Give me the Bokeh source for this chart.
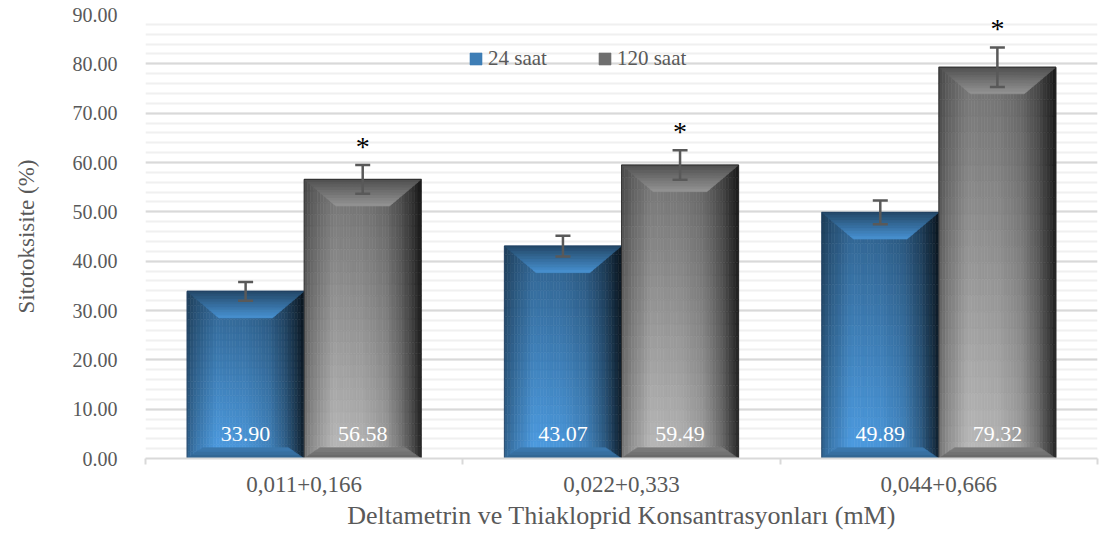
import numpy as np
from bokeh.plotting import figure
from bokeh.models import (Range1d, FixedTicker, NumeralTickFormatter, Whisker, TeeHead,
                          ColumnDataSource, Legend, LegendItem)
from bokeh.core.properties import value
from bokeh.embed import file_html
from bokeh.resources import INLINE

# ---------------- data ----------------
categories = ["0,011+0,166", "0,022+0,333", "0,044+0,666"]
series = ["24 saat", "120 saat"]
values_24 = [33.90, 43.07, 49.89]
values_120 = [56.58, 59.49, 79.32]
error_24 = [1.9, 2.1, 2.4]
error_120 = [2.9, 3.0, 4.0]
marks_120 = ["*", "*", "*"]
y_ticks = [0, 10, 20, 30, 40, 50, 60, 70, 80, 90]
x_title = "Deltametrin ve Thiakloprid Konsantrasyonları (mM)"
y_title = "Sitotoksisite (%)"

# ---------------- style ----------------
FONT = "Liberation Serif"
TXT = "#595959"
BAR_W = 0.369
BEVEL_X = 0.10
BEVEL_Y = 5.4
BOT_X = 0.05
BOT_Y = 2.2
LABEL_Y = 5.0
STAR_GAP = 3.8
light_rgb = {"24 saat": (78, 158, 228), "120 saat": (186, 186, 186)}
edge_col = {"24 saat": "#1c3a5c", "120 saat": "#1e1e1e"}
top_bevel_f = {"24 saat": (0.45, 0.92), "120 saat": (0.42, 0.80)}
bot_bevel_f = {"24 saat": (0.62, 0.78), "120 saat": (0.55, 0.68)}
legend_cell = {"24 saat": (10, 12), "120 saat": (20, 22)}
h_u = [0, 0.08, 0.25, 0.5, 0.7, 0.85, 0.95, 1.0]
h_f = [0.62, 0.78, 1.0, 0.97, 0.85, 0.6, 0.35, 0.2]
NU, NV, NB = 36, 24, 10


def shade(rgb, f):
    return "#%02x%02x%02x" % tuple(int(max(0, min(255, round(c * f)))) for c in rgb)


p = figure(width=1103, height=534, x_range=Range1d(0, 3), y_range=Range1d(0, 90),
           output_backend="svg", toolbar_location=None,
           min_border_left=145, min_border_right=6, min_border_top=14, min_border_bottom=76)
p.outline_line_color = None
p.background_fill_color = "white"
p.border_fill_color = "white"

# grid
p.xgrid.visible = False
p.ygrid.ticker = FixedTicker(ticks=y_ticks, minor_ticks=list(range(0, 91, 2)))
p.ygrid.grid_line_color = "#d9d9d9"
p.ygrid.grid_line_width = 2
p.ygrid.minor_grid_line_color = "#f0f0f0"
p.ygrid.minor_grid_line_width = 2

# y axis
p.yaxis.ticker = FixedTicker(ticks=y_ticks)
p.yaxis.formatter = NumeralTickFormatter(format="0.00")
p.yaxis.axis_line_color = None
p.yaxis.major_tick_line_color = None
p.yaxis.minor_tick_line_color = None
p.yaxis.major_tick_out = 0
p.yaxis.major_tick_in = 0
p.yaxis.minor_tick_out = 0
p.yaxis.minor_tick_in = 0
p.yaxis.major_label_text_font = FONT
p.yaxis.major_label_text_font_size = "20px"
p.yaxis.major_label_text_color = TXT
p.yaxis.major_label_standoff = 28
p.yaxis.axis_label = y_title
p.yaxis.axis_label_text_font = FONT
p.yaxis.axis_label_text_font_size = "23px"
p.yaxis.axis_label_text_font_style = "normal"
p.yaxis.axis_label_text_color = TXT
p.yaxis.axis_label_standoff = 31

# x axis
centers = [i + 0.5 for i in range(len(categories))]
p.xaxis.ticker = FixedTicker(ticks=centers, minor_ticks=list(range(len(categories) + 1)))
p.xaxis.major_label_overrides = {c: lab for c, lab in zip(centers, categories)}
p.xaxis.axis_line_color = "#d9d9d9"
p.xaxis.axis_line_width = 2
p.xaxis.major_tick_line_color = None
p.xaxis.major_tick_out = 0
p.xaxis.major_tick_in = 0
p.xaxis.minor_tick_line_color = "#d9d9d9"
p.xaxis.minor_tick_line_width = 2
p.xaxis.minor_tick_out = 6
p.xaxis.minor_tick_in = 0
p.xaxis.major_label_text_font = FONT
p.xaxis.major_label_text_font_size = "23px"
p.xaxis.major_label_text_color = TXT
p.xaxis.major_label_standoff = 12
p.xaxis.axis_label = x_title
p.xaxis.axis_label_text_font = FONT
p.xaxis.axis_label_text_font_size = "26px"
p.xaxis.axis_label_text_font_style = "normal"
p.xaxis.axis_label_text_color = TXT
p.xaxis.axis_label_standoff = 6

data = {"24 saat": (values_24, error_24, -BAR_W / 2), "120 saat": (values_120, error_120, BAR_W / 2)}
legend_items = []
for s in series:
    vals, errs, off = data[s]
    rgb = light_rgb[s]
    q = dict(left=[], right=[], bottom=[], top=[], color=[])
    bev = dict(xs=[], ys=[], color=[])
    xc_list, x0_list, x1_list = [], [], []
    for i, v in enumerate(vals):
        xc = centers[i] + off
        x0, x1 = xc - BAR_W / 2, xc + BAR_W / 2
        xc_list.append(xc); x0_list.append(x0); x1_list.append(x1)
        for a in range(NU):
            u0, u1 = a / NU, (a + 1) / NU
            hf = float(np.interp((a + 0.5) / NU, h_u, h_f))
            for b in range(NV):
                t0, t1 = b / NV, (b + 1) / NV
                vf = 1 - 0.38 * (b + 0.5) / NV
                q["left"].append(x0 + u0 * BAR_W)
                q["right"].append(x0 + u1 * BAR_W)
                q["bottom"].append(v * t0)
                q["top"].append(v * t1)
                q["color"].append(shade(rgb, hf * vf))
        fa, fb = top_bevel_f[s]
        for k in range(NB):
            s0, s1 = k / NB, (k + 1) / NB
            bev["xs"].append([x0 + s0 * BEVEL_X, x1 - s0 * BEVEL_X, x1 - s1 * BEVEL_X, x0 + s1 * BEVEL_X])
            bev["ys"].append([v - s0 * BEVEL_Y, v - s0 * BEVEL_Y, v - s1 * BEVEL_Y, v - s1 * BEVEL_Y])
            bev["color"].append(shade(rgb, fa + (fb - fa) * (k + 0.5) / NB))
        ga, gb = bot_bevel_f[s]
        for k in range(3):
            s0, s1 = k / 3, (k + 1) / 3
            bev["xs"].append([x0 + s0 * BOT_X, x1 - s0 * BOT_X, x1 - s1 * BOT_X, x0 + s1 * BOT_X])
            bev["ys"].append([s0 * BOT_Y, s0 * BOT_Y, s1 * BOT_Y, s1 * BOT_Y])
            bev["color"].append(shade(rgb, ga + (gb - ga) * (k + 0.5) / 3))
    face = p.quad(left="left", right="right", bottom="bottom", top="top", fill_color="color",
                  line_color="color", line_width=0.6, source=ColumnDataSource(q))
    p.patches(xs="xs", ys="ys", fill_color="color", line_color="color", line_width=0.6,
              source=ColumnDataSource(bev))
    p.quad(left=x0_list, right=x1_list, bottom=[0] * len(vals), top=vals, fill_color=None,
           line_color=edge_col[s], line_width=1, line_alpha=0.7)
    # error bars
    esrc = ColumnDataSource(dict(x=xc_list, upper=[v + e for v, e in zip(vals, errs)],
                                 lower=[v - e for v, e in zip(vals, errs)]))
    w = Whisker(base="x", upper="upper", lower="lower", source=esrc, line_color="#595959",
                line_width=2.5, level="overlay",
                upper_head=TeeHead(size=15, line_color="#595959", line_width=2.5),
                lower_head=TeeHead(size=15, line_color="#595959", line_width=2.5))
    p.add_layout(w)
    # value labels
    p.text(x=xc_list, y=[LABEL_Y] * len(vals), text=["%.2f" % v for v in vals],
           text_font=value(FONT), text_font_size="22px", text_color="white",
           text_align="center", text_baseline="middle")
    if s == "120 saat":
        p.text(x=xc_list, y=[v + e + STAR_GAP for v, e in zip(vals, errs)], text=marks_120,
               text_font=value(FONT), text_font_size="28px", text_color="black",
               text_align="center", text_baseline="middle")
    ca, cb = legend_cell[s]
    legend_items.append(LegendItem(label=s, renderers=[face], index=ca * NV + cb))

legend = Legend(items=legend_items, location=(323, 387), orientation="horizontal",
                background_fill_alpha=0, border_line_color=None,
                label_text_font=FONT, label_text_font_size="21px", label_text_color=TXT,
                glyph_width=15, glyph_height=15, label_standoff=5, spacing=50,
                padding=0, margin=0)
p.add_layout(legend)

open("out.html", "w").write(file_html(p, INLINE))
